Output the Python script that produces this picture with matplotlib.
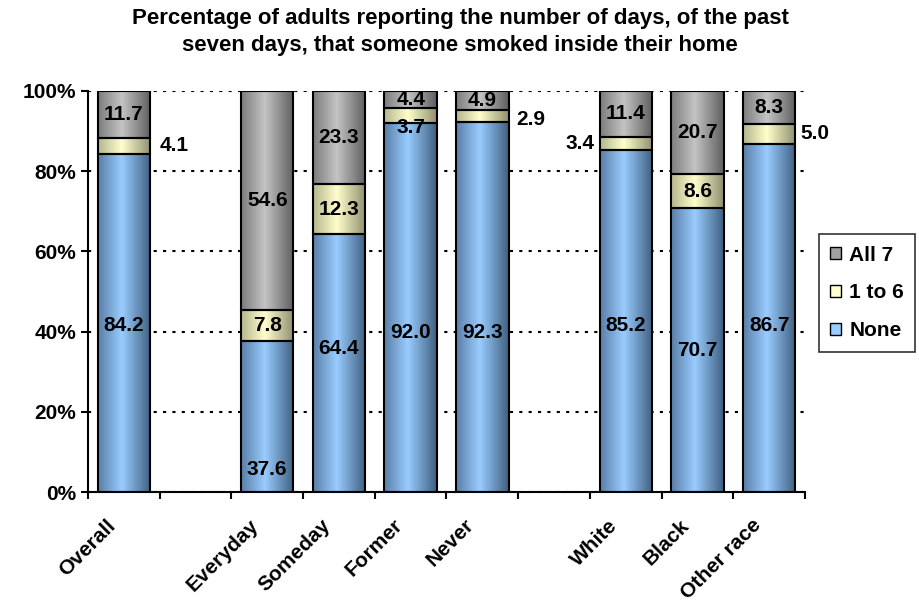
import numpy as np
import matplotlib
matplotlib.use("Agg")
import matplotlib.pyplot as plt
from matplotlib.colors import LinearSegmentedColormap
from matplotlib.patches import Patch
from matplotlib.transforms import ScaledTranslation

plt.rcParams['font.family'] = ['Liberation Sans', 'DejaVu Sans']
plt.rcParams['font.weight'] = 'bold'

# data
categories = ["Overall", "Everyday", "Someday", "Former", "Never", "White", "Black", "Other race"]
slots = [0, 2, 3, 4, 5, 7, 8, 9]          # empty slots act as group gaps
none_vals = [84.2, 37.6, 64.4, 92.0, 92.3, 85.2, 70.7, 86.7]
some_vals = [4.1, 7.8, 12.3, 3.7, 2.9, 3.4, 8.6, 5.0]
all7_vals = [11.7, 54.6, 23.3, 4.4, 4.9, 11.4, 20.7, 8.3]
series_names = ["None", "1 to 6", "All 7"]

# gradient colours per series: (left edge, centre, right edge)
grads = {
    "None": ["#5a7ea6", "#99ccff", "#3f5f80"],
    "1 to 6": ["#b5b58f", "#ffffcc", "#8f8f70"],
    "All 7": ["#7c7c7c", "#c4c4c4", "#5e5e5e"],
}
solid = {"None": "#99ccff", "1 to 6": "#ffffcc", "All 7": "#a0a0a0"}

# label placement tweaks (x offset in slots, y in %) where Excel put them off-centre
label_pos = {
    (0, "1 to 6"): (0.70, 86.5),
    (4, "1 to 6"): (0.67, 92.8),
    (5, "1 to 6"): (-0.64, 87.0),
    (7, "1 to 6"): (0.64, 89.3),
    (3, "1 to 6"): (0.0, 90.8),
    (1, "None"): (0.0, 5.5),
    (2, "None"): (0.0, 35.9),
    (3, "None"): (0.0, 39.9),
    (4, "None"): (0.0, 39.9),
    (0, "None"): (0.0, 41.6),
    (5, "None"): (0.0, 41.6),
    (7, "None"): (0.0, 41.6),
}

fig = plt.figure(figsize=(9.2, 6.1), dpi=100)
ax = fig.add_axes([88 / 920, 1 - 492 / 610, (805 - 88) / 920, (492 - 91) / 610])

width = 0.73
grad_img = np.linspace(0, 1, 256).reshape(1, -1)
bottoms = np.zeros(len(categories))
for name, vals in zip(series_names, [none_vals, some_vals, all7_vals]):
    cmap = LinearSegmentedColormap.from_list(
        name, [(0, grads[name][0]), (0.45, grads[name][1]), (1, grads[name][2])])
    bars = ax.bar(slots, vals, width, bottom=bottoms, facecolor="none",
                  edgecolor="black", linewidth=1.5, zorder=3)
    for b in bars:
        x0, y0 = b.get_x(), b.get_y()
        im = ax.imshow(grad_img, cmap=cmap, aspect="auto", zorder=2,
                       extent=[x0, x0 + b.get_width(), y0, y0 + b.get_height()])
        im.set_clip_path(b)
    for i, (s, v, b0) in enumerate(zip(slots, vals, bottoms)):
        dx, y = label_pos.get((i, name), (0.0, b0 + v / 2))
        ax.text(s + dx, y, f"{v:.1f}", ha="center", va="center",
                fontsize=15, fontweight="bold", zorder=5)
    bottoms = bottoms + np.array(vals)

ax.set_xlim(-0.5, 9.5)
ax.set_ylim(0, 100)
ax.set_yticks(np.arange(0, 101, 20))
ax.set_yticklabels([f"{v}%" for v in range(0, 101, 20)], fontsize=15, fontweight="bold")
ax.yaxis.grid(True, color="black", linestyle=(0, (1.5, 3)), linewidth=1.5, zorder=0)
ax.set_axisbelow(True)

ax.set_xticks(np.arange(-0.5, 10, 1))
ax.set_xticklabels([])
ax.set_xticks(slots, minor=True)
ax.set_xticklabels(categories, minor=True, rotation=45, ha="right",
                   rotation_mode="anchor", fontsize=15, fontweight="bold")
ax.tick_params(axis="x", which="minor", length=0, pad=17)
ax.tick_params(axis="both", which="major", length=5, width=1.5, direction="out")
shift = ScaledTranslation(-18 / 100, 0, fig.dpi_scale_trans)
for lab in ax.get_xticklabels(minor=True):
    lab.set_transform(lab.get_transform() + shift)

for sp in ["top", "right"]:
    ax.spines[sp].set_visible(False)
for sp in ["left", "bottom"]:
    ax.spines[sp].set_linewidth(1.5)

handles = [Patch(facecolor=solid[n], edgecolor="black", label=n) for n in reversed(series_names)]
leg = fig.legend(handles=handles, loc="center left", bbox_to_anchor=(819 / 920, 1 - 293 / 610),
                 frameon=True, fancybox=False, edgecolor="black", fontsize=15,
                 handlelength=0.5, handleheight=0.5, handletextpad=0.4,
                 labelspacing=0.9, borderpad=0.55, borderaxespad=0)
leg.get_frame().set_linewidth(1.2)
for t in leg.get_texts():
    t.set_fontweight("bold")

fig.text(0.5, 1 - 32 / 610,
         "Percentage of adults reporting the number of days, of the past\n"
         "seven days, that someone smoked inside their home",
         ha="center", va="center", fontsize=16, fontweight="bold", linespacing=1.4)

fig.savefig("out.png", dpi=100)
